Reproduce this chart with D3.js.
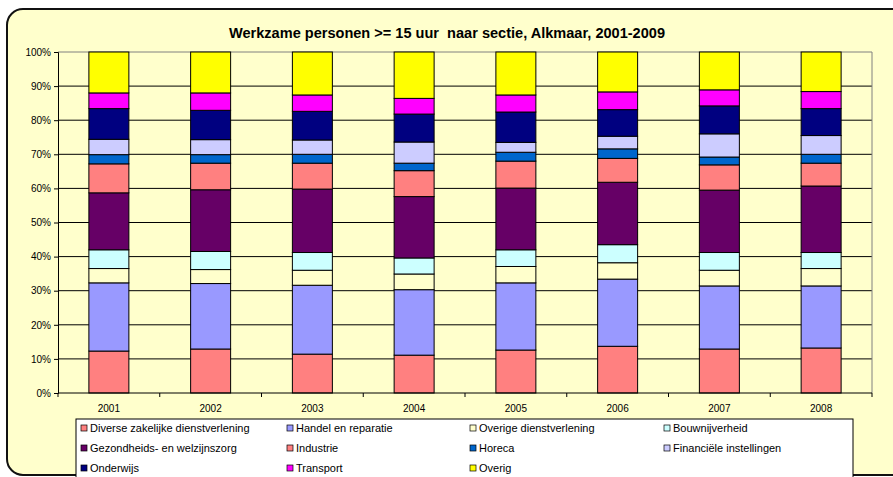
<!DOCTYPE html>
<html>
<head>
<meta charset="utf-8">
<script src="https://cdn.jsdelivr.net/npm/d3@7"></script>
<style>
  body { margin: 0; background: #fff; }
  svg { display: block; font-family: "Liberation Sans", Arial, sans-serif; }
</style>
</head>
<body>
<div id="container"></div>
<script>
const years = ['2001', '2002', '2003', '2004', '2005', '2006', '2007', '2008']

const sectors = [
  'Diverse zakelijke dienstverlening', 'Handel en reparatie', 'Overige dienstverlening', 'Bouwnijverheid',
  'Gezondheids- en welzijnszorg', 'Industrie', 'Horeca', 'Financiële instellingen',
  'Onderwijs', 'Transport', 'Overig'
]
const colors = ['#FF8080', '#9999FF', '#FFFFCC', '#CCFFFF', '#660066', '#FF8080', '#0066CC', '#CCCCFF', '#000080', '#FF00FF', '#FFFF00']

// percentages per year, in sector order
const diverse   = [12.3, 12.9, 11.4, 11.1, 12.6, 13.7, 12.9, 13.2]
const handel    = [20.0, 19.2, 20.2, 19.2, 19.7, 19.7, 18.5, 18.2]
const overigeD  = [4.2, 4.1, 4.4, 4.6, 4.8, 4.8, 4.6, 5.1]
const bouw      = [5.5, 5.3, 5.2, 4.7, 4.9, 5.3, 5.2, 4.7]
const gezond    = [16.7, 18.1, 18.6, 18.0, 18.1, 18.3, 18.3, 19.5]
const industrie = [8.5, 7.8, 7.6, 7.6, 7.9, 7.0, 7.4, 6.7]
const horeca    = [2.7, 2.5, 2.6, 2.2, 2.6, 2.8, 2.3, 2.6]
const financ    = [4.5, 4.4, 4.2, 6.2, 2.9, 3.7, 6.8, 5.5]
const onderwijs = [9.0, 8.6, 8.4, 8.2, 8.9, 7.8, 8.2, 7.9]
const transport = [4.6, 5.1, 4.8, 4.6, 5.0, 5.2, 4.7, 5.0]
const overig    = [12.0, 12.0, 12.6, 13.6, 12.6, 11.7, 11.1, 11.6]

const yTicks = [0, 10, 20, 30, 40, 50, 60, 70, 80, 90, 100]

const series = [diverse, handel, overigeD, bouw, gezond, industrie, horeca, financ, onderwijs, transport, overig]

const rows = years.map((y, i) => {
  const r = { year: y }
  sectors.forEach((s, k) => { r[s] = series[k][i] })
  return r
})

const W = 893, H = 477
const plot = { left: 58, right: 872, top: 52, bottom: 393 }

const svg = d3.select('#container').append('svg')
  .attr('width', W)
  .attr('height', H)

// chart frame
svg.append('rect')
  .attr('x', 7).attr('y', 9)
  .attr('width', 920).attr('height', 466)
  .attr('rx', 16).attr('ry', 16)
  .attr('fill', '#FFFFCC')
  .attr('stroke', '#111')
  .attr('stroke-width', 2)

svg.append('text')
  .attr('x', 447).attr('y', 38)
  .attr('text-anchor', 'middle')
  .attr('font-size', 14)
  .attr('font-weight', 'bold')
  .attr('xml:space', 'preserve')
  .attr('textLength', 436)
  .attr('lengthAdjust', 'spacingAndGlyphs')
  .text('Werkzame personen >= 15 uur  naar sectie, Alkmaar, 2001-2009')

const x = d3.scaleBand()
  .domain(years)
  .range([plot.left, plot.right])
  .paddingInner(0.607)
  .paddingOuter(0.3035)

const y = d3.scaleLinear()
  .domain([0, 100])
  .range([plot.bottom, plot.top])

// gridlines
svg.append('g')
  .selectAll('line')
  .data(yTicks.slice(1))
  .enter()
  .append('line')
  .attr('x1', plot.left).attr('x2', plot.right)
  .attr('y1', d => y(d)).attr('y2', d => y(d))
  .attr('stroke', d => d === 100 ? '#808080' : '#000')
  .attr('stroke-width', 1)

svg.append('line')
  .attr('x1', plot.right).attr('x2', plot.right)
  .attr('y1', plot.top).attr('y2', plot.bottom)
  .attr('stroke', '#808080')

const stack = d3.stack().keys(sectors)(rows)

svg.append('g')
  .selectAll('g')
  .data(stack)
  .enter()
  .append('g')
  .attr('fill', (d, i) => colors[i])
  .selectAll('rect')
  .data(d => d)
  .enter()
  .append('rect')
  .attr('x', d => x(d.data.year))
  .attr('y', d => y(d[1]))
  .attr('width', x.bandwidth())
  .attr('height', d => y(d[0]) - y(d[1]))
  .attr('stroke', '#000')
  .attr('stroke-width', 1)

// y axis
const yAxis = svg.append('g')
  .attr('transform', `translate(${plot.left},0)`)
  .call(d3.axisLeft(y).tickValues(yTicks).tickFormat(d => d + '%').tickSize(4).tickPadding(3))
yAxis.select('.domain').attr('stroke', '#000')
yAxis.selectAll('text').attr('font-size', 10).attr('fill', '#000')
  .attr('font-family', '"Liberation Sans", Arial, sans-serif')

// x axis with ticks between categories
const xAxis = svg.append('g')
  .attr('transform', `translate(0,${plot.bottom})`)
xAxis.append('line')
  .attr('x1', plot.left).attr('x2', plot.right)
  .attr('stroke', '#000')
const bounds = d3.range(years.length + 1).map(i => plot.left + i * x.step())
xAxis.selectAll('.tk')
  .data(bounds)
  .enter()
  .append('line')
  .attr('x1', d => d).attr('x2', d => d)
  .attr('y1', 0).attr('y2', 4)
  .attr('stroke', '#000')
xAxis.selectAll('text')
  .data(years)
  .enter()
  .append('text')
  .attr('x', d => x(d) + x.bandwidth() / 2)
  .attr('y', 19)
  .attr('text-anchor', 'middle')
  .attr('font-size', 10)
  .text(d => d)

// legend
const legend = svg.append('g')
legend.append('rect')
  .attr('x', 76).attr('y', 419)
  .attr('width', 777).attr('height', 80)
  .attr('fill', '#FFFFFF')
  .attr('stroke', '#000')
  .attr('stroke-width', 1)

const colX = [84, 290, 473, 667]
const rowY = [428, 448, 468]
const items = legend.selectAll('.item')
  .data(sectors)
  .enter()
  .append('g')
  .attr('transform', (d, i) => `translate(${colX[i % 4]},${rowY[Math.floor(i / 4)]})`)
items.append('rect')
  .attr('x', -3).attr('y', -3)
  .attr('width', 6).attr('height', 6)
  .attr('fill', (d, i) => colors[i])
  .attr('stroke', '#000')
  .attr('stroke-width', 0.7)
items.append('text')
  .attr('x', 6).attr('y', 4)
  .attr('font-size', 11)
  .text(d => d)
</script>
</body>
</html>
